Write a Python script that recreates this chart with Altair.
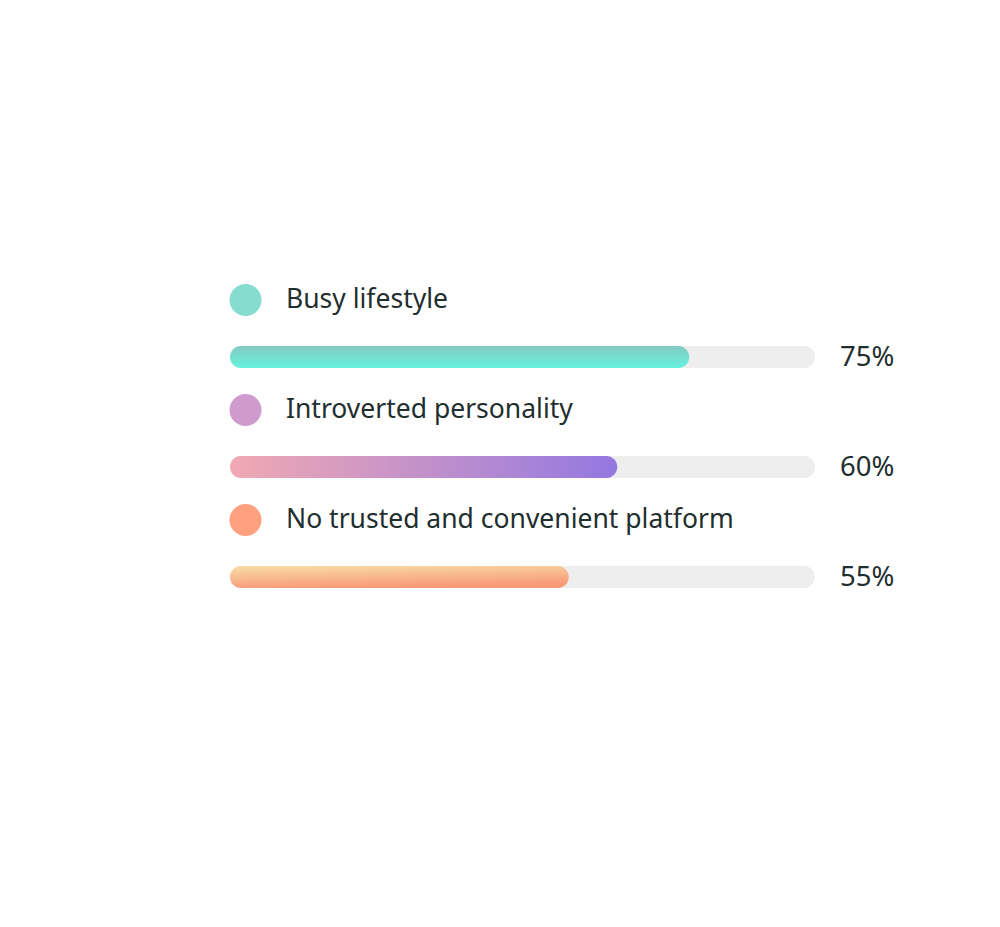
import altair as alt
import pandas as pd

categories = ["Busy lifestyle", "Introverted personality", "No trusted and convenient platform"]
percent_labels = [75, 60, 55]
bar_fill = [78.5, 66.2, 57.9]
dot_colors = ["#86dccf", "#cf9bcf", "#ffa07e"]

df = pd.DataFrame({
    "row": list(range(len(categories))),
    "category": categories,
    "pct": percent_labels,
    "fill": bar_fill,
    "label": [f"{p}%" for p in percent_labels],
    "dot": dot_colors,
    "zero": [0] * 3,
    "full": [100] * 3,
})

gradients = [
    alt.Gradient(gradient="linear", x1=0, y1=0, x2=0, y2=1,
                 stops=[alt.GradientStop(offset=0, color="#84cbc0"),
                        alt.GradientStop(offset=1, color="#64f2df")]),
    alt.Gradient(gradient="linear", x1=0, y1=0, x2=1, y2=0,
                 stops=[alt.GradientStop(offset=0, color="#f1a9b3"),
                        alt.GradientStop(offset=1, color="#9378e1")]),
    alt.Gradient(gradient="linear", x1=0, y1=0, x2=0.3, y2=1,
                 stops=[alt.GradientStop(offset=0, color="#f8dda7"),
                        alt.GradientStop(offset=1, color="#f89a78")]),
]

FONT = "Noto Sans"
FS = 26.5
TXT = "#1f2e2e"
BAR_OFF = 57

xs = alt.Scale(domain=[0, 100], range=[230, 815])
ys = alt.Scale(domain=[0, 2], range=[300, 520], padding=0)
X = lambda f: alt.X(f, type="quantitative", scale=xs, axis=None)
Y = alt.Y("row:Q", scale=ys, axis=None)

base = alt.Chart(df)

dots = base.mark_circle(size=1024, opacity=1).encode(
    x=X("zero"), y=Y, xOffset=alt.value(15.5),
    color=alt.Color("dot:N", scale=None),
)

labels = base.mark_text(align="left", baseline="middle", dx=56, font=FONT,
                        fontSize=FS, color=TXT).encode(
    x=X("zero"), y=Y, text="category:N")

track = base.mark_bar(height=22, cornerRadius=11, color="#eeeeee").encode(
    x=X("zero"), x2="full", y=Y, yOffset=alt.value(BAR_OFF))

fills = [
    base.transform_filter(alt.datum.row == i).mark_bar(
        height=22, cornerRadius=11, color=gradients[i]).encode(
        x=X("zero"), x2="fill", y=Y, yOffset=alt.value(BAR_OFF))
    for i in range(3)
]

pct = base.mark_text(align="left", baseline="middle", dx=25, dy=BAR_OFF + 1, font=FONT,
                     fontSize=27.5, color=TXT).encode(
    x=X("full"), y=Y, text="label:N")

chart = alt.layer(track, *fills, dots, labels, pct).properties(
    width=1000, height=927, autosize=alt.AutoSizeParams(type="none"),
    padding=0, background="white",
).configure_view(stroke=None)

chart.save("out.html", embed_options={"renderer": "svg", "actions": False})
